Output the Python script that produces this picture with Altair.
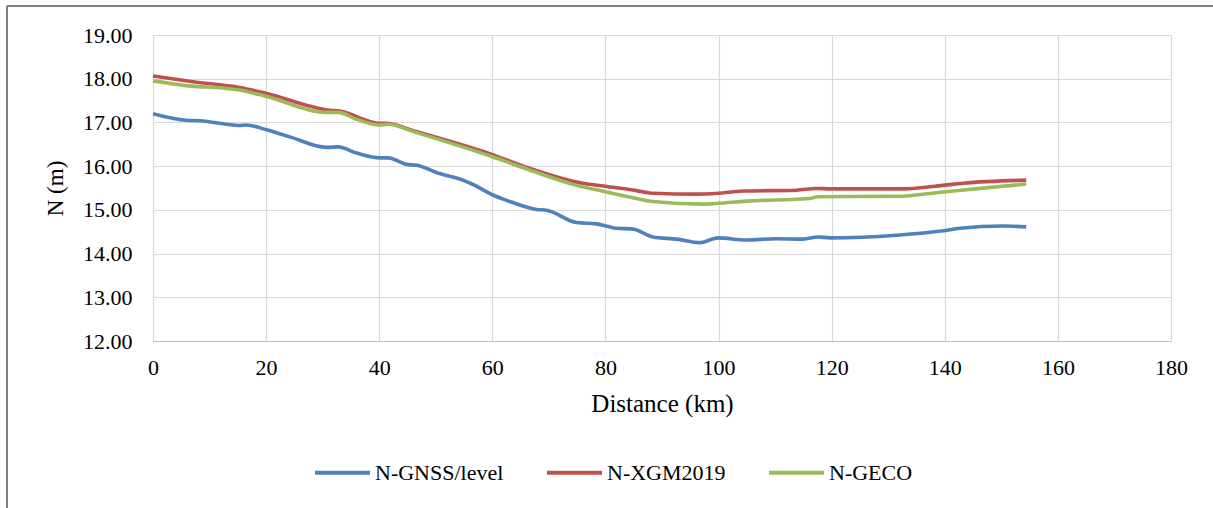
import altair as alt
import pandas as pd

series_names = ["N-GNSS/level", "N-XGM2019", "N-GECO"]
series_colors = ["#4F81BD", "#C0504D", "#9BBB59"]

gnss_km = [0, 5.9, 8.3, 15.3, 16.5, 19.9, 24.2, 30.7, 32.7, 36.0, 40.1, 41.6, 44.8, 46.6,
           50.7, 54.8, 56.6, 60.1, 62.5, 67.8, 69.6, 74.9, 78.4, 81.9, 84.9, 88.4, 92.6,
           96.7, 99.9, 104.9, 110.2, 114.9, 117.6, 119.7, 131.5, 139.7, 142.7, 150.3, 154.4]
gnss_n = [17.20, 17.05, 17.04, 16.93, 16.94, 16.84, 16.67, 16.43, 16.44, 16.30, 16.19, 16.19,
          16.04, 16.02, 15.83, 15.68, 15.58, 15.34, 15.22, 15.01, 14.99, 14.71, 14.68, 14.58,
          14.56, 14.38, 14.33, 14.25, 14.36, 14.31, 14.34, 14.33, 14.38, 14.36, 14.42, 14.52,
          14.58, 14.63, 14.61]

xgm_km = [0, 7.1, 15.3, 19.9, 31.2, 33.0, 40.1, 41.3, 46.0, 59.9, 66.6, 75.5, 79.9, 85.5,
          88.4, 96.1, 99.9, 104.3, 113.8, 117.3, 119.7, 132.6, 139.7, 143.2, 154.4]
xgm_n = [18.06, 17.93, 17.80, 17.67, 17.28, 17.26, 16.98, 16.98, 16.81, 16.27, 15.95, 15.62,
         15.54, 15.44, 15.38, 15.36, 15.38, 15.43, 15.45, 15.49, 15.48, 15.48, 15.56, 15.61,
         15.68]

geco_km = [0, 7.7, 11.2, 15.3, 19.9, 30.7, 32.7, 36.0, 40.1, 41.6, 46.0, 59.9, 66.6, 74.9,
           80.2, 85.5, 88.4, 97.3, 99.9, 104.9, 116.1, 117.6, 131.5, 139.7, 154.4]
geco_n = [17.95, 17.82, 17.80, 17.74, 17.60, 17.23, 17.23, 17.07, 16.94, 16.96, 16.79, 16.22,
          15.91, 15.56, 15.41, 15.26, 15.19, 15.13, 15.15, 15.20, 15.26, 15.30, 15.31, 15.41,
          15.59]

x_ticks = [0, 20, 40, 60, 80, 100, 120, 140, 160, 180]
y_ticks = [12, 13, 14, 15, 16, 17, 18, 19]

rows = []
for name, xs, ys in [(series_names[0], gnss_km, gnss_n),
                     (series_names[1], xgm_km, xgm_n),
                     (series_names[2], geco_km, geco_n)]:
    for i, (a, b) in enumerate(zip(xs, ys)):
        rows.append({"series": name, "km": a, "N": b, "order": i})
df = pd.DataFrame(rows)

FONT = "Liberation Serif"

lines = alt.Chart(df).mark_line(strokeWidth=3.6, interpolate="monotone").encode(
    x=alt.X("km:Q", scale=alt.Scale(domain=[0, 180], nice=False),
            axis=alt.Axis(values=x_ticks, title="Distance (km)", format="d",
                          grid=True, gridColor="#d9d9d9", gridWidth=1.2,
                          domainColor="#bfbfbf", domainWidth=1.2,
                          ticks=False, tickSize=0, labelPadding=16, labelFlush=False,
                          labelFont=FONT, labelFontSize=22, labelColor="#000000",
                          titleFont=FONT, titleFontSize=25, titleFontWeight="normal",
                          titleColor="#000000", titleY=70, titleBaseline="alphabetic")),
    y=alt.Y("N:Q", scale=alt.Scale(domain=[12, 19], nice=False, zero=False),
            axis=alt.Axis(values=y_ticks, title="N (m)", format=".2f",
                          grid=True, gridColor="#d9d9d9", gridWidth=1.2,
                          domain=False, ticks=False, tickSize=0, labelPadding=21,
                          labelFlush=False,
                          labelFont=FONT, labelFontSize=22, labelColor="#000000",
                          titleFont=FONT, titleFontSize=23, titleFontWeight="normal",
                          titleColor="#000000", titleX=-86)),
    color=alt.Color("series:N", scale=alt.Scale(domain=series_names, range=series_colors),
                    legend=alt.Legend(title=None, orient="none", direction="horizontal",
                                      legendX=160, legendY=408,
                                      symbolType="stroke", symbolSize=3025,
                                      symbolStrokeWidth=4, labelFont=FONT,
                                      labelFontSize=22, labelColor="#000000",
                                      labelOffset=3, columnPadding=35)),
    order=alt.Order("order:Q"),
)

frame_top = alt.Chart(df).mark_rule(color="#7f7f7f", strokeWidth=1.2, clip=False).encode(
    x=alt.value(-146), x2=alt.value(1070), y=alt.value(-29))
frame_left = alt.Chart(df).mark_rule(color="#7f7f7f", strokeWidth=1.2, clip=False).encode(
    x=alt.value(-146), y=alt.value(-29), y2=alt.value(480))

chart = alt.layer(frame_top, frame_left, lines).properties(
    width=1018, height=306,
    autosize=alt.AutoSizeParams(type="none"),
    padding={"left": 153, "top": 35, "right": 42, "bottom": 167},
    background="#ffffff",
).configure(font=FONT).configure_view(stroke=None)

chart.save("out.html", embed_options={"renderer": "svg", "actions": False})
